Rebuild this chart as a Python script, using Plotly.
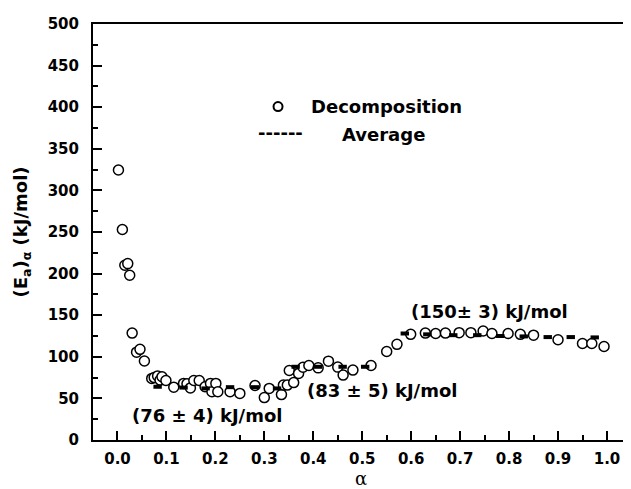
import plotly.graph_objects as go

# Decomposition data (alpha, Ea)
alpha_dec = [0.002, 0.010, 0.015, 0.021, 0.025, 0.030, 0.039, 0.046, 0.055, 0.070,
             0.075, 0.082, 0.087, 0.091, 0.099, 0.115, 0.135, 0.142, 0.149, 0.156,
             0.167, 0.179, 0.190, 0.193, 0.201, 0.205, 0.230, 0.250, 0.281, 0.300,
             0.310, 0.335, 0.339, 0.347, 0.351, 0.360, 0.370, 0.379, 0.391, 0.410,
             0.431, 0.450, 0.461, 0.481, 0.518, 0.550, 0.571, 0.599, 0.629, 0.650,
             0.670, 0.698, 0.722, 0.747, 0.765, 0.798, 0.823, 0.850, 0.900, 0.950,
             0.969, 0.994]
ea_dec = [324.5, 253, 210, 212, 198, 128.5, 105.6, 109, 95, 74,
          75, 77, 72, 76, 71.5, 63.5, 68, 67.5, 62.6, 71.5,
          71.5, 64, 68, 58, 68, 58, 58, 56, 65.5, 51,
          62, 54.6, 66, 66, 83.5, 69, 80, 87.5, 89.5, 86.7,
          94.8, 87.6, 78, 84, 89.6, 106.4, 115, 127, 128.5, 128,
          128.5, 129, 129, 131, 128, 128, 127, 126, 120.5, 116,
          116, 112.4]

# Average markers
alpha_avg = [0.082, 0.135, 0.180, 0.230, 0.281, 0.326, 0.364, 0.410, 0.460, 0.506,
             0.587, 0.633, 0.686, 0.735, 0.782, 0.830, 0.879, 0.926, 0.975]
ea_avg = [64, 63, 62, 63.5, 63.5, 62, 88, 88, 88, 88,
          128, 127, 126, 126, 125, 124.5, 123.7, 123.7, 123.3]

x_ticks = [0.0, 0.1, 0.2, 0.3, 0.4, 0.5, 0.6, 0.7, 0.8, 0.9, 1.0]
y_ticks = [0, 50, 100, 150, 200, 250, 300, 350, 400, 450, 500]

FONT = "DejaVu Sans, sans-serif"

fig = go.Figure()
fig.add_trace(go.Scatter(
    x=alpha_dec, y=ea_dec, mode="markers", name="Decomposition",
    marker=dict(symbol="circle", size=10, color="white",
                line=dict(color="black", width=1.5)),
    showlegend=False))
fig.add_trace(go.Scatter(
    x=alpha_avg, y=ea_avg, mode="markers", name="Average",
    marker=dict(symbol="line-ew", size=6, color="black",
                line=dict(color="black", width=4)),
    showlegend=False))

axis_common = dict(
    showline=True, linecolor="black", linewidth=2, mirror=True,
    ticks="inside", ticklen=9, tickwidth=2, tickcolor="black",
    showgrid=False, zeroline=False, automargin=False,
    tickfont=dict(family=FONT, size=15, color="black", weight="bold"),
)

fig.update_xaxes(
    range=[-0.05, 1.045], tickvals=x_ticks,
    ticktext=[f"{v:.1f}" for v in x_ticks],
    minor=dict(ticks="inside", dtick=0.05, ticklen=5, tickwidth=1.5, tickcolor="black"),
    title=dict(text="α", font=dict(family="DejaVu Serif, serif", size=18, color="black"),
               standoff=14),
    ticklabelstandoff=4,
    **axis_common)
fig.update_yaxes(
    range=[0, 500], tickvals=y_ticks,
    minor=dict(ticks="inside", dtick=25, ticklen=5, tickwidth=1.5, tickcolor="black"),
    title=dict(text="(E<sub>a</sub>)<sub>α</sub> (kJ/mol)",
               font=dict(family=FONT, size=18, color="black", weight="bold"),
               standoff=15),
    ticklabelstandoff=9,
    **axis_common)

ann_font = dict(family=FONT, size=18, color="black", weight="bold")
fig.add_annotation(x=0.182, y=30, text="(76 ± 4) kJ/mol", showarrow=False, font=ann_font)
fig.add_annotation(x=0.541, y=59.4, text="(83 ± 5) kJ/mol", showarrow=False, font=ann_font)
fig.add_annotation(x=0.761, y=154.6, text="(150± 3) kJ/mol", showarrow=False, font=ann_font)

# Legend drawn manually
fig.add_shape(type="circle", xref="x", yref="y", xsizemode="pixel", ysizemode="pixel",
              xanchor=0.328, yanchor=400.8, x0=-4.5, x1=4.5, y0=-4.5, y1=4.5,
              line=dict(color="black", width=2), fillcolor="white")
fig.add_annotation(x=0.392, y=400.8, text="Decomposition", showarrow=False,
                   xanchor="left", font=ann_font)
fig.add_annotation(x=0.334, y=369, text="------", showarrow=False,
                   font=dict(family=FONT, size=18, color="black", weight="bold"))
fig.add_annotation(x=0.454, y=367.5, text="Average", showarrow=False,
                   xanchor="left", font=ann_font)

# The page body adds an 8px offset; size the figure so it fills the window.
fig.update_layout(
    width=623, height=481,
    margin=dict(l=85, r=2, t=16, b=49),
    plot_bgcolor="white", paper_bgcolor="white",
    font=dict(family=FONT, color="black"),
)

fig.write_html("out.html")
